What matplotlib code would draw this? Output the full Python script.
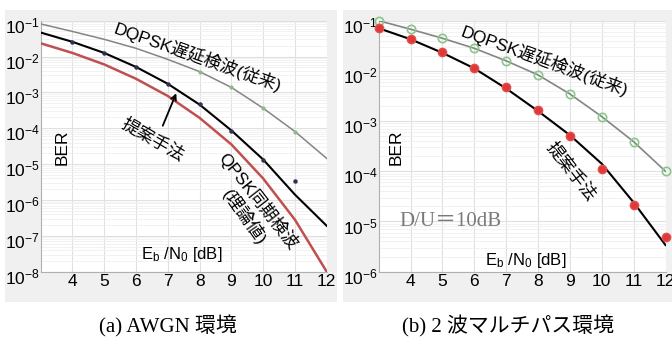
import numpy as np
import matplotlib
matplotlib.use("Agg")
import matplotlib.pyplot as plt
from matplotlib.patches import Rectangle, FancyArrowPatch
from matplotlib import transforms
from matplotlib.ticker import LogLocator, NullFormatter

plt.rcParams['font.family'] = ['Liberation Sans', 'Noto Sans CJK JP']
plt.rcParams['mathtext.fontset'] = 'custom'
plt.rcParams['mathtext.rm'] = 'Liberation Sans'
plt.rcParams['mathtext.it'] = 'Liberation Sans:italic'
plt.rcParams['mathtext.bf'] = 'Liberation Sans:bold'

# ---------------- data ----------------
ebn0 = [3, 4, 5, 6, 7, 8, 9, 10, 11, 12]
xticks = [4, 5, 6, 7, 8, 9, 10, 11, 12]

# (a) AWGN  (log10 BER)
a_dqpsk_log = [-1.09, -1.30, -1.52, -1.77, -2.08, -2.42, -2.86, -3.44, -4.09, -4.84]
a_prop_log = [-1.33, -1.59, -1.90, -2.29, -2.76, -3.34, -4.06, -4.87, -5.85, -6.72]
a_qpsk_log = [-1.63, -1.90, -2.22, -2.62, -3.10, -3.71, -4.45, -5.40, -6.55, -8.00]
a_prop_pts_x = [4, 5, 6, 7, 8, 9, 10, 11]
a_prop_pts_log = [-1.59, -1.89, -2.28, -2.77, -3.33, -4.09, -4.88, -5.47]
a_dq_pts_x = [8, 9, 10, 11]
a_dq_pts_log = [-2.42, -2.86, -3.44, -4.10]
a_yticks = [-8, -7, -6, -5, -4, -3, -2, -1]

# (b) two-path multipath
b_dqpsk_log = [-1.00, -1.17, -1.35, -1.55, -1.80, -2.08, -2.46, -2.91, -3.41, -4.00]
b_prop_line_log = [-1.15, -1.37, -1.64, -1.95, -2.35, -2.80, -3.28, -3.85, -4.62, -5.47]
b_prop_pts_log = [-1.15, -1.36, -1.63, -1.94, -2.33, -2.78, -3.30, -3.95, -4.67, -5.30]
b_yticks = [-6, -5, -4, -3, -2, -1]

W, H = 672, 344
fig = plt.figure(figsize=(W / 100, H / 100), dpi=100)
fig.patch.set_facecolor('white')

def fx(px):
    return px / W

def fy(py):
    return 1 - py / H

# grey panel backgrounds
for (x0, x1) in [(5, 337), (343, 672)]:
    r = Rectangle((fx(x0), fy(302)), fx(x1) - fx(x0), fy(10) - fy(302),
                  transform=fig.transFigure, facecolor='#f0f0f0',
                  edgecolor='none', zorder=-5)
    fig.add_artist(r)

def setup(ax, yt):
    ax.set_zorder(2)
    ax.set_facecolor('white')
    ax.set_yscale('log')
    ax.set_xlim(3, 12)
    ax.set_ylim(10.0 ** yt[0], 10.0 ** yt[-1])
    ax.set_xticks(xticks)
    ax.set_xticklabels([str(t) for t in xticks], fontsize=12.5)
    ax.set_yticks([10.0 ** t for t in yt])
    ax.set_yticklabels([r'$10^{%d}$' % t for t in yt], fontsize=12.5)
    ax.yaxis.set_minor_locator(LogLocator(base=10, subs=np.arange(2, 10)))
    ax.yaxis.set_minor_formatter(NullFormatter())
    ax.tick_params(axis='both', which='both', length=0, pad=1.5)
    ax.tick_params(axis='y', pad=0.5)
    ax.grid(True, which='major', color='#e0e0e0', lw=0.8)
    ax.grid(True, which='minor', axis='y', color='#f0f0f0', lw=0.6)
    ax.set_axisbelow(True)
    for s in ['top', 'right']:
        ax.spines[s].set_visible(False)
    for s in ['left', 'bottom']:
        ax.spines[s].set_color('#b0b0b0')
        ax.spines[s].set_linewidth(0.8)
    off = transforms.ScaledTranslation(0, -4 / 100, fig.dpi_scale_trans)
    for lab in ax.get_yticklabels():
        lab.set_transform(lab.get_transform() + off)

def pw(v):
    return [10.0 ** t for t in v]

# ---------- (a) ----------
ax1 = fig.add_axes([fx(40.7), fy(271.7), fx(326.7) - fx(40.7), fy(20.7) - fy(271.7)])
setup(ax1, a_yticks)
ax1.plot(ebn0, pw(a_dqpsk_log), color='#858585', lw=1.1, zorder=3)
ax1.plot(ebn0, pw(a_qpsk_log), color='#c05050', lw=1.8, zorder=3)
ax1.plot(ebn0, pw(a_prop_log), color='black', lw=1.5, zorder=4)
ax1.plot(a_prop_pts_x, pw(a_prop_pts_log), ls='none', marker='o', ms=2.2,
         color='#303050', zorder=5, clip_on=False)
ax1.plot(a_dq_pts_x, pw(a_dq_pts_log), ls='none', marker='o', ms=2.0,
         color='#90b890', zorder=5)

# ---------- (b) ----------
ax2 = fig.add_axes([fx(378.7), fy(271.7), fx(665.5) - fx(378.7), fy(20.7) - fy(271.7)])
setup(ax2, b_yticks)
ax2.plot(ebn0, pw(b_dqpsk_log), color='#858585', lw=1.2, zorder=3)
ax2.plot(ebn0, pw(b_prop_line_log), color='black', lw=1.5, zorder=4)
ax2.plot(ebn0, pw(b_dqpsk_log), ls='none', marker='o', ms=6, mfc='none',
         mec='#88c888', mew=1.2, zorder=5, clip_on=False)
ax2.plot(ebn0, pw(b_prop_pts_log), ls='none', marker='o', ms=6, color='#e03838',
         mec='#e05050', zorder=5, clip_on=False)

# ---------- annotations ----------
jp = ['Liberation Sans', 'Noto Sans CJK JP']

def ftext(px, py, s, **kw):
    fig.text(fx(px), fy(py), s, transform=fig.transFigure, zorder=10, **kw)

ftext(198, 57, 'DQPSK遅延検波(従来)', rotation=-19.5, ha='center', va='center',
      rotation_mode='anchor', fontsize=12.5, family=jp)
ftext(153, 140, '提案手法', rotation=-30, ha='center', va='center',
      rotation_mode='anchor', fontsize=12.5, family=jp)
ftext(258, 201, 'QPSK同期検波', rotation=-52, ha='center', va='center',
      rotation_mode='anchor', fontsize=12.5, family=jp)
ftext(245, 217, '(理論値)', rotation=-55, ha='center', va='center',
      rotation_mode='anchor', fontsize=12.5, family=jp)
ftext(62, 147, 'BER', rotation=90, ha='center', va='center', fontsize=12.5)
ftext(182, 255, r'E$_{\mathrm{b}}$ /N$_{\mathrm{0}}$ [dB]', ha='center', va='center',
      fontsize=12)
fig.add_artist(FancyArrowPatch(
    (fx(161.7), fy(128.3)), (fx(177.3), fy(90.7)), transform=fig.transFigure,
    arrowstyle='->', mutation_scale=9, lw=1.3, color='black', zorder=10))

ftext(545, 61, 'DQPSK遅延検波(従来)', rotation=-20, ha='center', va='center',
      rotation_mode='anchor', fontsize=12.5, family=jp)
ftext(571, 171, '提案手法', rotation=-52, ha='center', va='center',
      rotation_mode='anchor', fontsize=12.5, family=jp)
ftext(450, 222, 'D/U＝10dB', ha='center', va='center', fontsize=15,
      color='#7a7a7a', family=['Liberation Serif', 'Noto Sans CJK JP'])
ftext(396, 147, 'BER', rotation=90, ha='center', va='center', fontsize=12.5)
ftext(526, 261, r'E$_{\mathrm{b}}$ /N$_{\mathrm{0}}$ [dB]', ha='center', va='center',
      fontsize=12)

# captions
cap = ['Liberation Serif', 'Noto Sans CJK JP']
ftext(168, 326, '(a) AWGN 環境', ha='center', va='center', fontsize=15, family=cap)
ftext(508, 326, '(b) 2 波マルチパス環境', ha='center', va='center', fontsize=15, family=cap)

fig.savefig('out.png', dpi=100, facecolor='white')
